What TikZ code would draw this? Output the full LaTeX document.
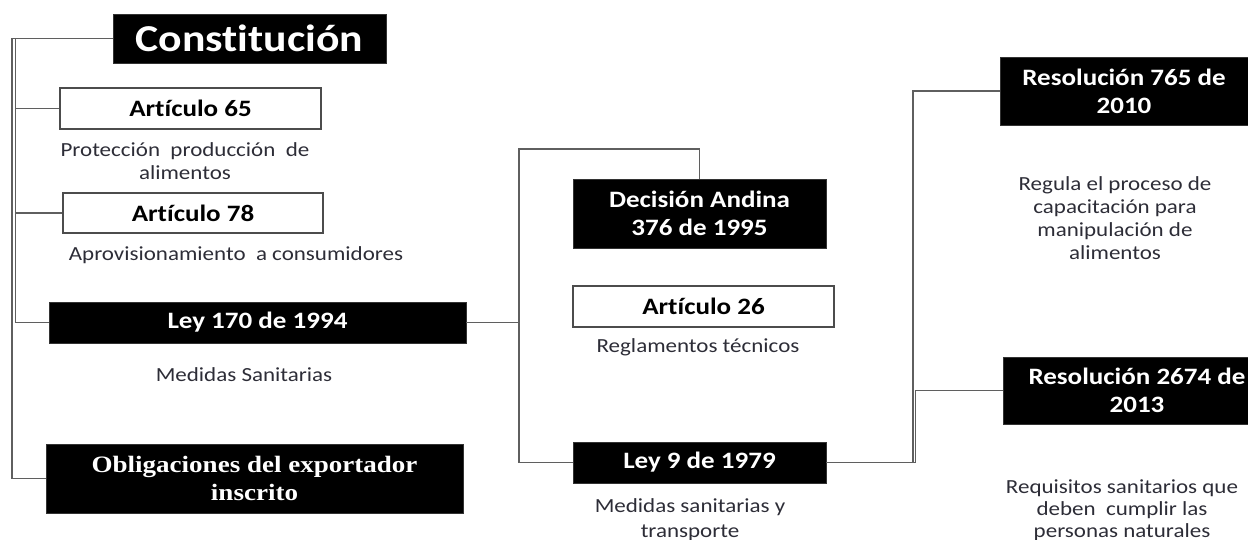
\documentclass[tikz,border=0pt]{standalone}
\usepackage{fontspec}
\setmainfont[FakeStretch=1.15, Ligatures={NoCommon,NoContextual}]{Carlito}
\newfontfamily\timesb[FakeStretch=1.15]{Liberation Serif}
\definecolor{desccol}{RGB}{45,45,55}
\definecolor{conncol}{RGB}{95,95,95}
\begin{document}
\begin{tikzpicture}[x=1pt,y=-1pt,
  blk/.style={rectangle, fill=black, draw=black!80, line width=0.8pt, inner sep=0pt, text=white, align=center,
     font=\fontsize{23.5}{28}\selectfont\bfseries},
  wbox/.style={rectangle, fill=white, draw=black!70, line width=1.4pt, inner sep=0pt, text=black, align=center,
     font=\fontsize{23.5}{28}\selectfont\bfseries},
  desc/.style={inner sep=0pt, align=center, text=desccol, font=\fontsize{20}{23}\selectfont},
  conn/.style={draw=conncol, line width=1.6pt}]
\useasboundingbox (0,0) rectangle (1248,539);

% boxes
\node[blk, minimum width=273pt, minimum height=49pt, font=\fontsize{38}{40}\selectfont\bfseries] (const) at (249.5,38.5) {Constitución};
\node[wbox, minimum width=261pt, minimum height=41pt] (art65) at (190.5,108.5) {Artículo 65};
\node[wbox, minimum width=260pt, minimum height=40pt] (art78) at (193,213) {Artículo 78};
\node[blk, minimum width=417pt, minimum height=41pt] (ley170) at (257.5,322.5) {Ley 170 de 1994};
\node[blk, minimum width=417pt, minimum height=69pt, font=\timesb\fontsize{23.5}{28}\selectfont\bfseries] (oblig) at (254.5,478.5) {Obligaciones del exportador\\inscrito};

\node[blk, minimum width=253pt, minimum height=69pt] (dec) at (699.5,213.5) {Decisión Andina\\376 de 1995};
\node[wbox, minimum width=261pt, minimum height=41pt] (art26) at (703.5,306.5) {Artículo 26};
\node[blk, minimum width=253pt, minimum height=41pt] (ley9) at (699.5,462.5) {Ley 9 de 1979};

\node[blk, minimum width=248pt, minimum height=68pt] (res765) at (1124,91) {Resolución 765 de\\2010};
\node[blk, minimum width=268pt, minimum height=67pt] (res2674) at (1137,390.5) {Resolución 2674 de\\2013};

% descriptions
\node[desc] (d1) at (185,161.5) {Protección\ \ producción\ \ de\\alimentos};
\node[desc] (d2) at (236,255) {Aprovisionamiento\ \ a consumidores};
\node[desc] (d3) at (244,375) {Medidas Sanitarias};
\node[desc] (d4) at (698,347) {Reglamentos técnicos};
\node[desc, font=\fontsize{20}{24.5}\selectfont] (d5) at (690,519.5) {Medidas sanitarias y\\transporte};
\node[desc] (d6) at (1115,218.5) {Regula el proceso de\\capacitación para\\manipulación de\\alimentos};
\node[desc, font=\fontsize{20}{22}\selectfont] (d7) at (1122,510) {Requisitos sanitarios que\\deben\ \ cumplir las\\personas naturales};

% connectors
\coordinate (lx1) at (12,38.5);
\coordinate (lx2) at (15.5,38.5);
\draw[conn] (const.west) -- (lx1) |- (oblig.west);
\draw[conn] (lx2) |- (art65.west);
\draw[conn] (lx2) |- (art78.west);
\draw[conn] (lx2) |- (ley170.west);

\coordinate (mx) at (519,322.5);
\coordinate (mt) at (519,149);
\draw[conn] (ley170.east) -- (mx);
\draw[conn] (mx) -- (mt) -| (dec.north);
\draw[conn] (mx) |- (ley9.west);

\coordinate (rx) at (913,462.5);
\coordinate (rx2) at (915.5,462.5);
\draw[conn] (ley9.east) -- (rx2);
\draw[conn] (rx) |- (res765.west);
\draw[conn] (rx2) |- (res2674.west);
\end{tikzpicture}
\end{document}
